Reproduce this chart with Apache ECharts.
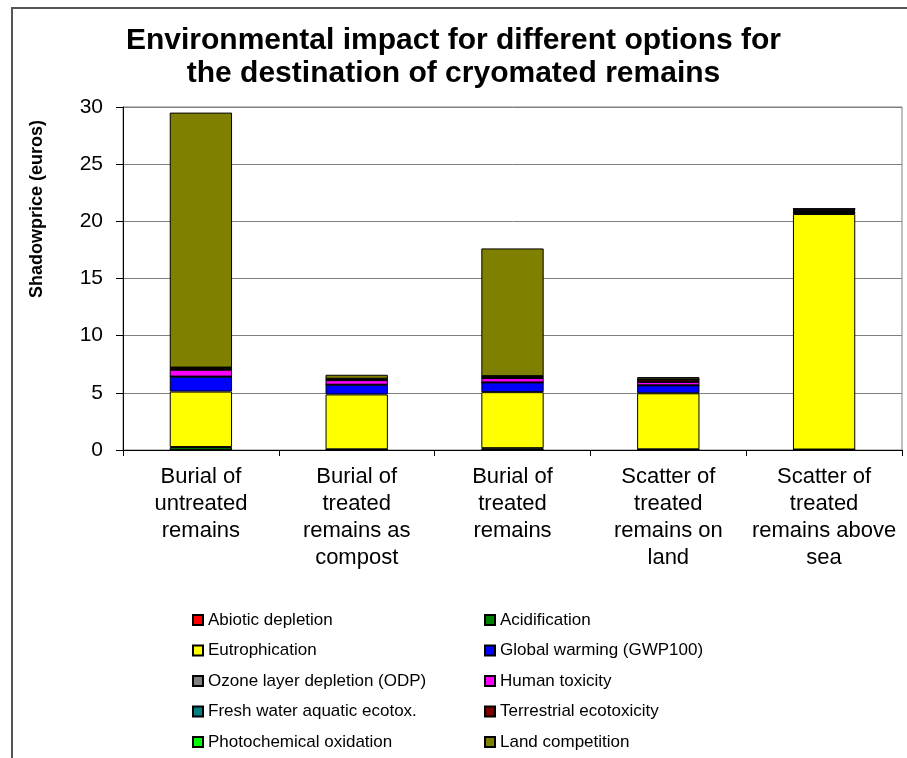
<!DOCTYPE html>
<html>
<head>
<meta charset="utf-8">
<style>
  html, body { margin: 0; padding: 0; background: #fff; }
  #chart { width: 907px; height: 758px; }
</style>
<script src="https://cdn.jsdelivr.net/npm/echarts@6/dist/echarts.min.js"></script>
</head>
<body>
<div id="chart"></div>
<script>
var categories = [
  'Burial of\nuntreated\nremains',
  'Burial of\ntreated\nremains as\ncompost',
  'Burial of\ntreated\nremains',
  'Scatter of\ntreated\nremains on\nland',
  'Scatter of\ntreated\nremains above\nsea'
];

// stacked bottom to top, in legend order
var seriesNames = [
  'Abiotic depletion', 'Acidification', 'Eutrophication', 'Global warming (GWP100)',
  'Ozone layer depletion (ODP)', 'Human toxicity', 'Fresh water aquatic ecotox.',
  'Terrestrial ecotoxicity', 'Photochemical oxidation', 'Land competition'
];
var seriesColors = [
  '#ff0000', '#008000', '#ffff00', '#0000ff', '#808080',
  '#ff00ff', '#008080', '#800000', '#00ff00', '#808000'
];

var abiotic = [0.01, 0.01, 0.01, 0.01, 0.01];
var acidification = [0.25, 0.05, 0.15, 0.05, 0.03];
var eutrophication = [4.85, 4.8, 4.9, 4.9, 20.6];
var globalWarming = [1.3, 0.85, 0.85, 0.7, 0.1];
var ozone = [0.01, 0.0, 0.0, 0.0, 0.0];
var humanTox = [0.6, 0.4, 0.38, 0.3, 0.1];
var freshWater = [0.02, 0.01, 0.01, 0.01, 0.05];
var terrestrial = [0.15, 0.1, 0.15, 0.2, 0.15];
var photochem = [0.02, 0.01, 0.01, 0.01, 0.05];
var landCompetition = [22.3, 0.35, 11.17, 0.2, 0.0];

var seriesValues = [abiotic, acidification, eutrophication, globalWarming, ozone,
  humanTox, freshWater, terrestrial, photochem, landCompetition];

var yTicks = { min: 0, max: 30, interval: 5 };

var leftLegend = [seriesNames[0], seriesNames[2], seriesNames[4], seriesNames[6], seriesNames[8]];
var rightLegend = [seriesNames[1], seriesNames[3], seriesNames[5], seriesNames[7], seriesNames[9]];

var font = '"Liberation Sans", Arial, sans-serif';

var chart = echarts.init(document.getElementById('chart'), null, { renderer: 'canvas' });

var legendBase = {
  orient: 'vertical',
  top: 605,
  itemWidth: 10,
  itemHeight: 10,
  itemGap: 10.5,
  icon: 'rect',
  textStyle: { color: '#000', fontSize: 17, fontFamily: font, lineHeight: 20 }
};

chart.setOption({
  animation: false,
  backgroundColor: '#fff',
  title: {
    text: 'Environmental impact for different options for\nthe destination of cryomated remains',
    left: 'center',
    top: 19,
    textStyle: { color: '#000', fontSize: 30, fontWeight: 'bold', fontFamily: font, lineHeight: 33 }
  },
  legend: [
    Object.assign({}, legendBase, { left: 187, data: leftLegend }),
    Object.assign({}, legendBase, { left: 479, data: rightLegend })
  ],
  grid: {
    left: 123, right: 5, top: 107, bottom: 308,
    show: true, borderColor: '#808080', borderWidth: 1
  },
  xAxis: {
    type: 'category',
    data: categories,
    axisLine: { lineStyle: { color: '#000', width: 1 } },
    axisTick: { show: true, length: 6, lineStyle: { color: '#000' } },
    axisLabel: {
      color: '#000', fontSize: 22, fontFamily: font, lineHeight: 27,
      margin: 13, interval: 0, align: 'center'
    }
  },
  yAxis: {
    type: 'value',
    min: yTicks.min,
    max: yTicks.max,
    interval: yTicks.interval,
    axisLine: { show: true, lineStyle: { color: '#000', width: 1 } },
    axisTick: { show: true, length: 7, lineStyle: { color: '#000' } },
    axisLabel: { color: '#000', fontSize: 21, fontFamily: font, margin: 20 },
    splitLine: { lineStyle: { color: '#808080', width: 1 } }
  },
  series: seriesNames.map(function (name, i) {
    return {
      name: name,
      type: 'bar',
      stack: 'total',
      barWidth: '40%',
      data: seriesValues[i],
      itemStyle: { color: seriesColors[i], borderColor: '#000', borderWidth: 1 }
    };
  }),
  graphic: [
    {
      type: 'rect',
      silent: true,
      z: -10,
      shape: { x: 12, y: 8, width: 1000, height: 1000 },
      style: { fill: 'none', stroke: '#555', lineWidth: 2 }
    },
    {
      type: 'text',
      x: 37,
      y: 209,
      rotation: Math.PI / 2,
      style: {
        text: 'Shadowprice (euros)',
        fill: '#000',
        font: 'bold 18px ' + font,
        textAlign: 'center',
        textVerticalAlign: 'middle'
      }
    }
  ]
});
</script>
</body>
</html>
